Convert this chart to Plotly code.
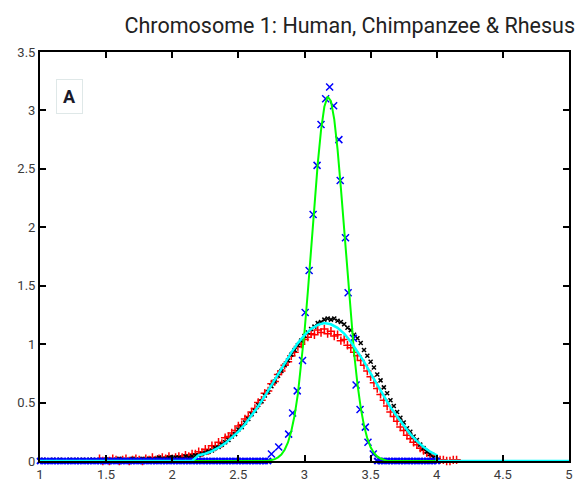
import numpy as np
import plotly.graph_objects as go

# ---------------- data ----------------
title_text = "Chromosome 1: Human, Chimpanzee & Rhesus"
x_ticks = [1, 1.5, 2, 2.5, 3, 3.5, 4, 4.5, 5]
x_tick_labels = ["1", "1.5", "2", "2.5", "3", "3.5", "4", "4.5", "5"]
y_ticks = [0, 0.5, 1, 1.5, 2, 2.5, 3, 3.5]
y_tick_labels = ["0", "0.5", "1", "1.5", "2", "2.5", "3", "3.5"]

# red "+" series: bins 1.45 .. 4.15 step 0.025
red_x = np.round(np.arange(1.45, 4.1501, 0.025), 3)
red_y = [0.02, 0.00, 0.01, 0.00, 0.02, 0.01, 0.00, 0.01, 0.02, 0.00,
         0.01, 0.02, 0.01, 0.00, 0.02, 0.01, 0.03, 0.01, 0.02, 0.03,
         0.02, 0.04, 0.02, 0.03, 0.04, 0.03, 0.05, 0.04, 0.06, 0.06,
         0.08,
         0.07, 0.10, 0.09, 0.13, 0.12, 0.16, 0.15, 0.20, 0.21, 0.24,
         0.26, 0.30, 0.31, 0.36, 0.38, 0.42, 0.45, 0.50, 0.52, 0.58,
         0.60, 0.66, 0.68, 0.74, 0.77, 0.82, 0.85, 0.90, 0.93, 0.98,
         1.00, 1.04, 1.06, 1.09, 1.08, 1.12, 1.10, 1.13, 1.09, 1.11,
         1.07, 1.08, 1.03, 1.04, 0.99, 0.97, 0.93, 0.90, 0.86, 0.82,
         0.77, 0.72, 0.67, 0.62, 0.57, 0.52, 0.47, 0.42, 0.38, 0.34,
         0.29, 0.26, 0.22, 0.19, 0.16, 0.14, 0.11, 0.09, 0.07, 0.05,
         0.04, 0.02, 0.01, 0.01, 0.00, 0.00, 0.01, 0.01]

# black "." series: bins 1.0 .. 4.0 step 0.025
black_x = np.round(np.arange(1.0, 4.0001, 0.025), 3)
black_y = [0.00, 0.01, 0.00, 0.00, 0.01, 0.00, 0.01, 0.00, 0.00, 0.01,
           0.00, 0.01, 0.00, 0.01, 0.00, 0.01, 0.01, 0.00, 0.01, 0.00,
           0.01, 0.01, 0.00, 0.01, 0.02, 0.01, 0.00, 0.01, 0.02, 0.01,
           0.01, 0.02, 0.01, 0.02, 0.01, 0.02, 0.03, 0.02, 0.02, 0.03,
           0.02, 0.03, 0.03, 0.02, 0.04, 0.03, 0.04, 0.05, 0.05,
           0.06, 0.07, 0.08, 0.09, 0.11, 0.12, 0.14, 0.16, 0.18, 0.21,
           0.23, 0.27, 0.29, 0.33, 0.36, 0.40, 0.43, 0.48, 0.51, 0.56,
           0.59, 0.64, 0.68, 0.73, 0.77, 0.82, 0.86, 0.91, 0.95, 0.99,
           1.03, 1.07, 1.10, 1.13, 1.15, 1.18, 1.19, 1.21, 1.22, 1.21,
           1.22, 1.20, 1.19, 1.17, 1.14, 1.12, 1.08, 1.05, 1.01, 0.95,
           0.90, 0.85, 0.80, 0.74, 0.69, 0.63, 0.58, 0.52, 0.47, 0.42,
           0.37, 0.33, 0.28, 0.25, 0.21, 0.18, 0.14, 0.11, 0.08, 0.06,
           0.03, 0.01]

# blue "x" series: peak points plus baseline bins
blue_peak_x = [2.75, 2.805, 2.88, 2.91, 2.945, 2.985, 3.005, 3.035, 3.065, 3.095,
               3.125, 3.16, 3.19, 3.22, 3.26, 3.27, 3.31, 3.33, 3.37, 3.39,
               3.42, 3.46, 3.48, 3.52]
blue_peak_y = [0.06, 0.12, 0.23, 0.41, 0.60, 0.86, 1.27, 1.63, 2.11, 2.53,
               2.88, 3.10, 3.20, 3.04, 2.75, 2.40, 1.91, 1.44, 1.05, 0.65,
               0.44, 0.29, 0.16, 0.06]
blue_base_x = list(np.round(np.arange(1.0, 2.7251, 0.025), 3)) + \
              list(np.round(np.arange(3.55, 4.0001, 0.025), 3))
blue_base_y = [0.0] * len(blue_base_x)

# green fitted curve (narrow)
green_x = [1.0, 2.725, 2.75, 2.775, 2.8, 2.825, 2.85, 2.875, 2.9, 2.925,
           2.95, 2.975, 3.0, 3.025, 3.05, 3.075, 3.1, 3.125, 3.15, 3.175,
           3.2, 3.225, 3.25, 3.275, 3.3, 3.325, 3.35, 3.375, 3.4, 3.425,
           3.45, 3.475, 3.5, 3.525, 3.55, 3.575, 3.6, 3.625, 4.0]
green_y = [0.0, 0.0, 0.008, 0.016, 0.031, 0.055, 0.096, 0.159, 0.254, 0.389,
           0.574, 0.813, 1.106, 1.446, 1.816, 2.192, 2.542, 2.832, 3.031, 3.119,
           3.080, 2.924, 2.667, 2.337, 1.968, 1.592, 1.237, 0.924, 0.663, 0.457,
           0.303, 0.193, 0.118, 0.069, 0.039, 0.021, 0.011, 0.0, 0.0]

# cyan fitted curve (broad)
cyan_x = [1.0, 2.15, 2.2, 2.25, 2.3, 2.35, 2.4, 2.45, 2.5, 2.55, 2.6, 2.65,
          2.7, 2.75, 2.8, 2.85, 2.9, 2.95, 3.0, 3.05, 3.1, 3.15, 3.2, 3.25,
          3.3, 3.35, 3.4, 3.45, 3.5, 3.55, 3.6, 3.65, 3.7, 3.75, 3.8, 3.85,
          3.9, 3.95, 4.0, 4.0, 5.0]
cyan_y = [0.0, 0.0, 0.05, 0.062, 0.085, 0.114, 0.151, 0.197, 0.251, 0.314,
          0.387, 0.468, 0.556, 0.649, 0.744, 0.839, 0.928, 1.009, 1.077, 1.130,
          1.165, 1.18, 1.17, 1.14, 1.09, 1.02, 0.94, 0.85, 0.75, 0.65,
          0.56, 0.46, 0.38, 0.30, 0.23, 0.17, 0.12, 0.08, 0.05, 0.0, 0.0]

# ---------------- figure ----------------
narrow = "Roboto, Liberation Sans Narrow, sans-serif"

fig = go.Figure()
fig.add_trace(go.Scatter(x=red_x, y=red_y, mode="markers", cliponaxis=False,
                         marker=dict(symbol="cross-thin", size=6, color="#ff0000",
                                     line=dict(color="#ff0000", width=1.5))))
fig.add_trace(go.Scatter(x=black_x, y=black_y, mode="markers", cliponaxis=False,
                         marker=dict(symbol="x-thin", size=4, color="#000000",
                                     line=dict(color="#000000", width=1.5))))
fig.add_trace(go.Scatter(x=blue_base_x, y=blue_base_y, mode="markers", cliponaxis=False,
                         marker=dict(symbol="x-thin", size=6, color="#0000ff",
                                     line=dict(color="#0000ff", width=2))))
fig.add_trace(go.Scatter(x=blue_peak_x, y=blue_peak_y, mode="markers", cliponaxis=False,
                         marker=dict(symbol="x-thin", size=7, color="#0000ff",
                                     line=dict(color="#0000ff", width=1.5))))
fig.add_trace(go.Scatter(x=green_x, y=green_y, mode="lines", cliponaxis=False,
                         line=dict(color="#00ff00", width=2)))
fig.add_trace(go.Scatter(x=cyan_x, y=cyan_y, mode="lines", cliponaxis=False,
                         line=dict(color="#00ffff", width=2.5)))

axis_common = dict(showgrid=False, zeroline=False, showline=True, linecolor="black",
                   linewidth=2, mirror="ticks", ticks="inside", ticklen=6,
                   tickwidth=1.5, tickcolor="black",
                   tickfont=dict(family=narrow, size=13, color="#3a3a3a"))
fig.update_layout(
    width=582, height=491,
    margin=dict(l=40, r=9, t=52, b=29),
    paper_bgcolor="white", plot_bgcolor="white",
    showlegend=False,
    title=dict(text=title_text, x=0.988, xanchor="right", xref="container",
               y=0.948, yanchor="middle", yref="container",
               font=dict(family=narrow, size=21.5, color="#222222")),
    xaxis=dict(range=[1, 5], tickvals=x_ticks, ticktext=x_tick_labels, **axis_common),
    yaxis=dict(range=[0, 3.5], tickvals=y_ticks, ticktext=y_tick_labels, **axis_common),
)
fig.add_annotation(x=1.22, y=3.12, xref="x", yref="y", text="<b>A</b>", showarrow=False,
                   font=dict(family="Roboto, Liberation Sans, sans-serif", size=18, color="#1a1a2a"),
                   bgcolor="white", bordercolor="#dfe8e8", borderwidth=1, borderpad=6)

fig.write_html("out.html")
